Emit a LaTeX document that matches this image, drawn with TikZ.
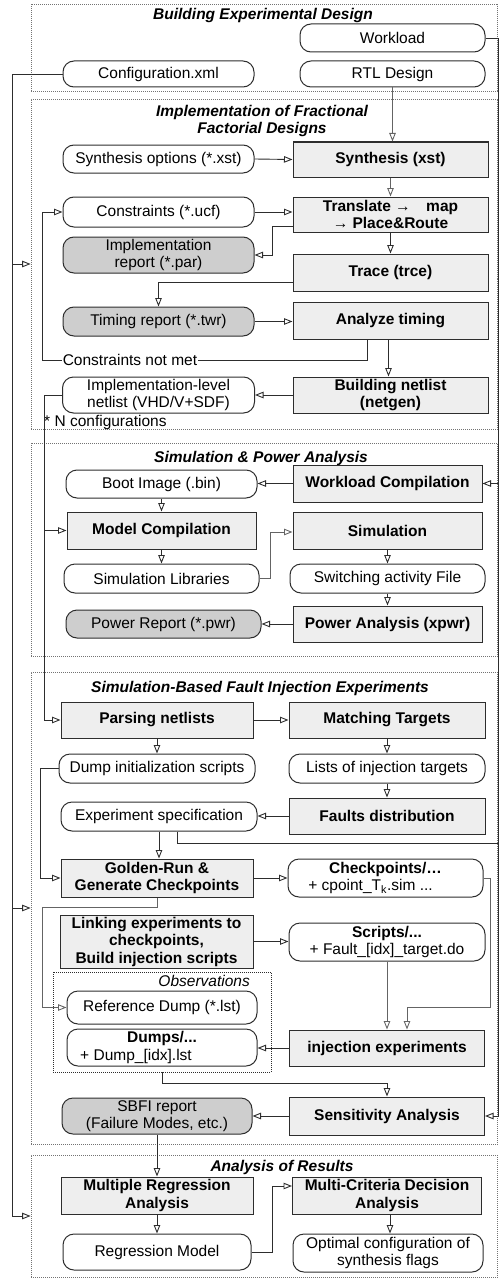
\documentclass[tikz,border=0pt]{standalone}
\usepackage{fontspec}
\setmainfont{Liberation Sans}
\usepackage{xcolor}
\usetikzlibrary{arrows.meta}
\definecolor{procgray}{RGB}{238,238,238}
\definecolor{repgray}{RGB}{206,206,206}
\definecolor{ink}{RGB}{45,45,45}
\definecolor{inklight}{RGB}{100,100,100}
\newcommand\dfont{\fontsize{15.5}{17.5}\selectfont}

\begin{document}
\begin{tikzpicture}[x=1pt,y=-1pt,line join=miter,
  proc/.style={draw=ink,line width=1pt,fill=procgray,font=\dfont\bfseries,align=center,inner sep=0pt},
  data/.style={draw=ink,line width=1pt,fill=white,rounded corners=11pt,font=\dfont,align=center,inner sep=0pt},
  report/.style={data,fill=repgray},
  stage/.style={draw=black!55,line width=0.8pt,dash pattern=on 1pt off 1pt,inner sep=0pt,minimum width=466.5},
  stagetitle/.style={font=\dfont\bfseries\itshape},
  wire/.style={draw=ink,line width=0.9pt,-{Triangle[open,length=8.5pt,width=6.5pt]}},
  line/.style={draw=ink,line width=0.9pt},
  lightwire/.style={wire,draw=inklight}]
  \useasboundingbox (0,0) rectangle (499,1279);

  \node[stage,minimum height=87] (build) at (264.25,47.5) {};
  \node[stage,minimum height=330] (impl) at (264.25,264) {};
  \node[stage,minimum height=213] (simpow) at (264.25,549.5) {};
  \node[stage,minimum height=472] (sbfi) at (264.25,908) {};
  \node[stage,minimum height=122] (results) at (264.25,1216) {};

  \node[stagetitle] (t1) at (263,15) {Building Experimental Design};
  \node[stagetitle,align=center] (t2) at (262,121) {Implementation of Fractional\\Factorial Designs};
  \node[stagetitle] (t3) at (261,458) {Simulation \& Power Analysis};
  \node[stagetitle] (t4) at (260,688) {Simulation-Based Fault Injection Experiments};
  \node[stagetitle] (t5) at (282,1167) {Analysis of Results};

  \node[data,minimum width=185,minimum height=28] (workload) at (392.5,38) {Workload};
  \node[data,minimum width=185,minimum height=26] (rtl) at (392.5,74) {RTL Design};
  \node[data,minimum width=191,minimum height=26] (config) at (158.5,74) {Configuration.xml};

  \node[data,minimum width=191,minimum height=28] (synthopt) at (158.5,159) {Synthesis options (*.xst)};
  \node[proc,minimum width=195,minimum height=35] (synth) at (390.5,159.5) {Synthesis (xst)};
  \node[data,minimum width=191,minimum height=30] (constr) at (158.5,212) {Constraints (*.ucf)};
  \node[proc,minimum width=195,minimum height=35] (translate) at (390.5,214.5) {Translate →\quad map\\→ Place\&Route};
  \node[report,minimum width=191,minimum height=36] (implrep) at (158.5,255) {Implementation\\report (*.par)};
  \node[proc,minimum width=195,minimum height=37] (trace) at (390.5,272.5) {Trace (trce)};
  \node[report,minimum width=191,minimum height=29] (timrep) at (158.5,321.5) {Timing report (*.twr)};
  \node[proc,minimum width=195,minimum height=37] (analyze) at (390.5,320.5) {Analyze timing};
  \node[proc,minimum width=195,minimum height=36] (netgen) at (390.5,395) {Building netlist\\(netgen)};
  \node[data,minimum width=192,minimum height=36] (netlist) at (158.5,395) {Implementation-level\\netlist (VHD/V+SDF)};
  \node[font=\dfont,anchor=west,inner sep=0pt] (nconf) at (44,422) {* N configurations};

  \node[data,minimum width=191,minimum height=28] (boot) at (161.5,484) {Boot Image (.bin)};
  \node[proc,minimum width=189,minimum height=37] (wlcomp) at (387.5,483.5) {Workload Compilation};
  \node[proc,minimum width=189,minimum height=37] (modcomp) at (161.5,530.5) {Model Compilation};
  \node[proc,minimum width=189,minimum height=37] (sim) at (387.5,530.5) {Simulation};
  \node[data,minimum width=195,minimum height=29] (simlib) at (161.5,578.5) {Simulation Libraries};
  \node[data,minimum width=195,minimum height=29] (switch) at (387.5,578.5) {Switching activity File};
  \node[report,minimum width=195,minimum height=28] (pwrrep) at (163.5,624) {Power Report (*.pwr)};
  \node[proc,minimum width=189,minimum height=36] (pwr) at (387.5,624) {Power Analysis (xpwr)};

  \node[proc,minimum width=192,minimum height=36] (parse) at (157,720) {Parsing netlists};
  \node[proc,minimum width=196,minimum height=36] (match) at (387,720) {Matching Targets};
  \node[data,minimum width=196,minimum height=29] (dumpinit) at (157,768.5) {Dump initialization scripts};
  \node[data,minimum width=196,minimum height=29] (lists) at (387,768.5) {Lists of injection targets};
  \node[proc,minimum width=196,minimum height=36] (faults) at (387,816) {Faults distribution};
  \node[data,minimum width=196,minimum height=29] (expspec) at (159,816.5) {Experiment specification};
  \node[proc,minimum width=192,minimum height=38] (golden) at (157,878) {Golden-Run \&\\Generate Checkpoints};
  \node[data,minimum width=195,minimum height=38] (chkpt) at (385.5,878) {\textbf{Checkpoints/…}\\+ cpoint\_T\textsubscript{k}.sim ...\hspace*{30pt}};
  \node[proc,minimum width=193,minimum height=53] (link) at (156.5,941.5) {Linking experiments to\\checkpoints,\\Build injection scripts};
  \node[data,minimum width=196,minimum height=38] (scripts) at (387,942) {\textbf{Scripts/...}\\+ Fault\_[idx]\_target.do};
  \node[draw=ink,line width=0.8pt,dash pattern=on 1pt off 1pt,minimum width=218,minimum height=100,inner sep=0pt] (obs) at (162,1022) {};
  \node[font=\dfont\itshape,anchor=east,inner sep=0pt] (obstitle) at (250,981) {Observations};
  \node[data,minimum width=190,minimum height=33] (refdump) at (162,1007.5) {Reference Dump (*.lst)};
  \node[data,minimum width=190,minimum height=37] (dumps) at (162,1047.5) {\textbf{Dumps/...}\\+ Dump\_[idx].lst\hspace*{52pt}};
  \node[proc,minimum width=195,minimum height=36] (inject) at (387,1048) {injection experiments};
  \node[proc,minimum width=195,minimum height=38] (sens) at (387,1116) {Sensitivity Analysis};
  \node[report,minimum width=190,minimum height=36] (sbfirep) at (157,1116) {SBFI report\\(Failure Modes, etc.)};

  \node[proc,minimum width=192,minimum height=37] (multreg) at (157,1195.5) {Multiple Regression\\Analysis};
  \node[proc,minimum width=189,minimum height=37] (mcda) at (387,1195.5) {Multi-Criteria Decision\\Analysis};
  \node[data,minimum width=188,minimum height=36] (regmod) at (157,1252) {Regression Model};
  \node[data,minimum width=190,minimum height=38] (optim) at (388,1253) {Optimal configuration of\\synthesis flags};

  \coordinate (lbus) at (12,74);
  \coordinate (rbus) at (498,38);
  \coordinate (nbus) at (44,395);
  \coordinate (loop) at (42,360);
  \coordinate (gbus) at (42,907);
  \coordinate (ckturn) at (407,1007);

  \draw[wire] (config.west) -- (lbus) |- (results.west);
  \draw[wire] (lbus |- impl.west) -- (impl.west);
  \draw[wire] (lbus |- sbfi.west) -- (sbfi.west);
  \draw[wire] (workload.east) -- (rbus) |- (sens.east);
  \draw[wire] (rbus |- wlcomp.east) -- (wlcomp.east);

  \draw[lightwire] (rtl.south) -- (rtl.south |- synth.north);
  \draw[wire] (synthopt.east) -- (synth.west);
  \draw[lightwire] (synth.south) -- (translate.north);
  \draw[wire] (constr.east) -- (constr.east -| translate.west);
  \draw[wire] ([yshift=-11.5pt]translate.west) -- ++(-20,0) |- (implrep.east);
  \draw[wire] (translate.south) -- (trace.north);
  \draw[wire] ([yshift=-9.5pt]trace.west) -| (timrep.north);
  \draw[wire] (timrep.east) -- (timrep.east -| analyze.west);
  \draw[wire] ([xshift=-2pt]analyze.south) -- ([xshift=-2pt]netgen.north);
  \draw[wire] ([xshift=-23pt]analyze.south) |- (loop) |- (constr.west);
  \node[font=\dfont,fill=white,inner sep=1pt] (notmet) at (130,360) {Constraints not met};
  \draw[wire] (netgen.west) -- (netlist.east);
  \draw[wire] (netlist.west) -- (nbus) |- (parse.west);
  \draw[wire] (nbus |- modcomp.west) -- (modcomp.west);

  \draw[wire] (wlcomp.west) -- (wlcomp.west -| boot.east);
  \draw[wire] (boot.south) -- (modcomp.north);
  \draw[wire] (modcomp.south) -- (simlib.north);
  \draw[lightwire] (simlib.east) -- ++(11,0) |- ([yshift=-1.5pt]sim.west);
  \draw[wire] (sim.south) -- (switch.north);
  \draw[wire] (switch.south) -- (pwr.north);
  \draw[wire] (pwr.west) -- (pwrrep.east);

  \draw[wire] (parse.east) -- (match.west);
  \draw[wire] (parse.south) -- (dumpinit.north);
  \draw[wire] (match.south) -- (lists.north);
  \draw[wire] (lists.south) -- (faults.north);
  \draw[wire] (faults.west) -- (faults.west -| expspec.east);
  \draw[wire] (expspec.south) -- (expspec.south |- golden.north);
  \draw[line] ([xshift=18pt]expspec.south) |- ([yshift=-9pt]faults.south -| rbus);
  \draw[wire] (dumpinit.west) -- ++(-18,0) |- (golden.west);
  \draw[wire] (golden.east) -- (chkpt.west);
  \draw[lightwire] (golden.south) |- (gbus) |- (refdump.west);
  \draw[lightwire] (chkpt.east) -- ++(7,0) |- (ckturn) -- (ckturn |- inject.north);
  \draw[wire] (link.east) -- (link.east -| scripts.west);
  \draw[lightwire] (scripts.south) -- (scripts.south |- inject.north);
  \draw[wire] (inject.west) -- (inject.west -| dumps.east);
  \draw[wire] (obs.south) -- ++(0,11) -| (sens.north);
  \draw[wire] (sens.west) -- (sbfirep.east);

  \draw[wire] (sbfirep.south) -- (multreg.north);
  \draw[wire] (multreg.south) -- (regmod.north);
  \draw[wire] (regmod.east) -- ++(21,0) |- ([yshift=9.5pt]mcda.west);
  \draw[wire] ([xshift=3pt]mcda.south) -- ([xshift=3pt]mcda.south |- optim.north);
\end{tikzpicture}
\end{document}
